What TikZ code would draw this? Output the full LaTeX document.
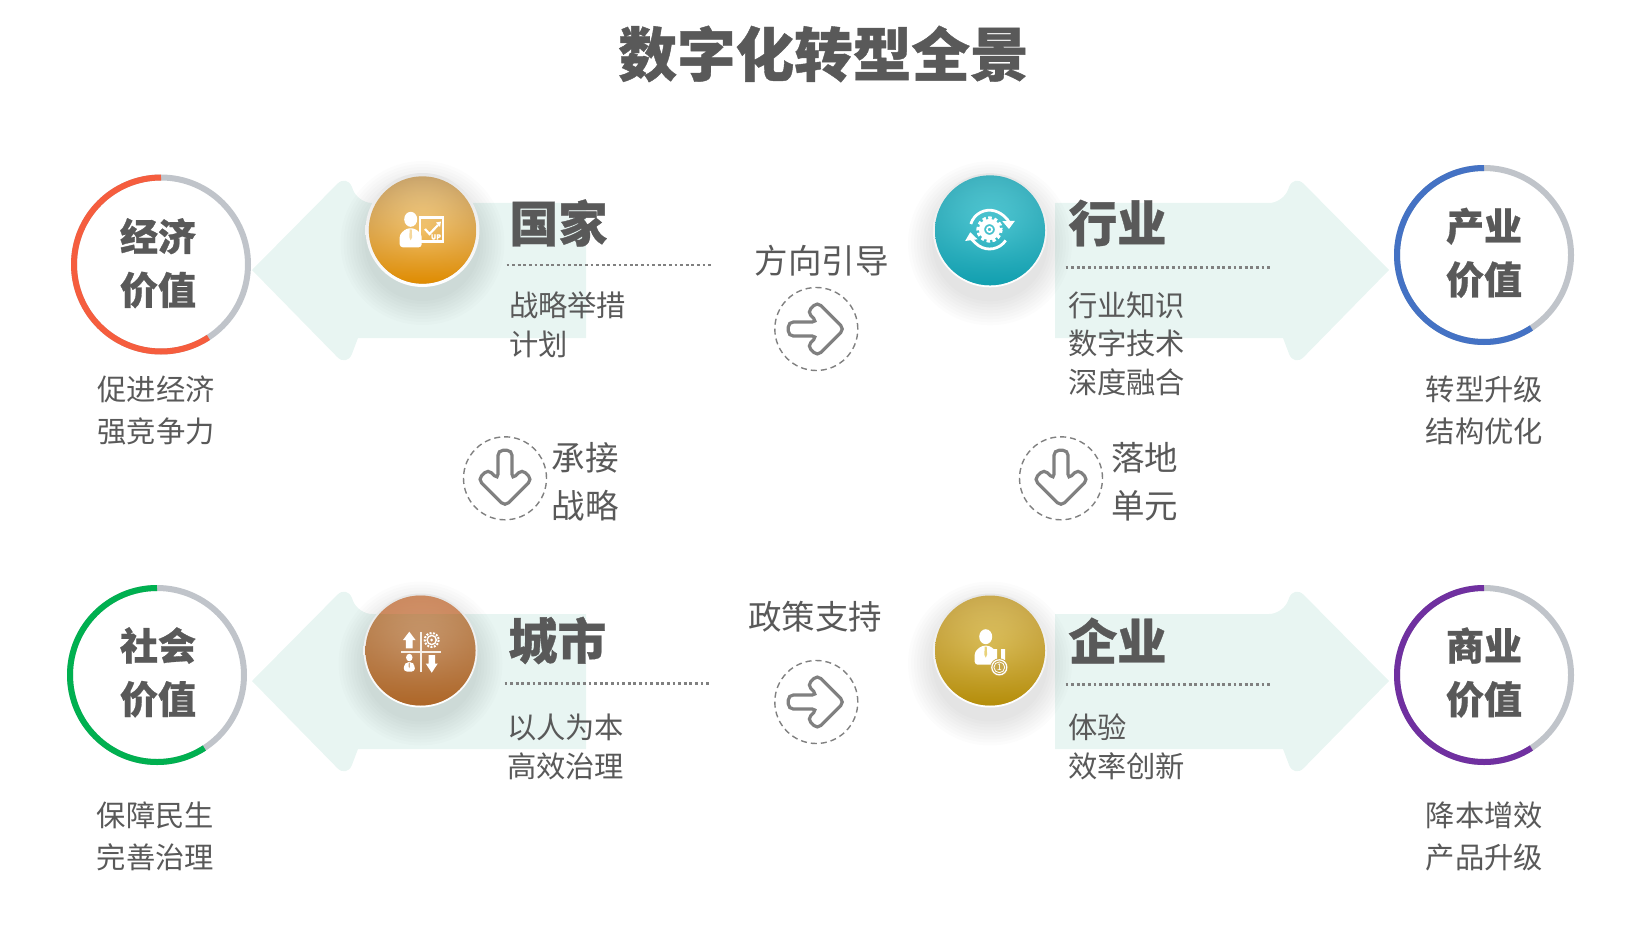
\documentclass[tikz,border=0pt]{standalone}
\usepackage{fontspec}
\setmainfont[BoldFeatures={FakeBold=0.7}]{Noto Sans CJK SC}
\usetikzlibrary{arrows.meta,fadings,positioning}
\definecolor{txtgrey}{RGB}{89,89,89}
\definecolor{ringgrey}{RGB}{192,196,202}
\definecolor{ringred}{RGB}{245,93,62}
\definecolor{ringblue}{RGB}{68,114,196}
\definecolor{ringgreen}{RGB}{0,176,80}
\definecolor{ringpurple}{RGB}{112,48,160}
\definecolor{flowmint}{RGB}{232,245,242}
\definecolor{dashgrey}{RGB}{128,128,128}
\definecolor{amberin}{HTML}{F5D89C}
\definecolor{amberout}{HTML}{C9A46B}
\definecolor{ambermid}{HTML}{FCC35F}
\definecolor{amberlow}{HTML}{E08C00}
\definecolor{tealin}{HTML}{6ADAE3}
\definecolor{tealout}{HTML}{3FB1BE}
\definecolor{tealmid}{HTML}{33B6C4}
\definecolor{teallow}{HTML}{12A0B0}
\definecolor{copperin}{HTML}{D2AC88}
\definecolor{copperout}{HTML}{BD8A5A}
\definecolor{coppermid}{HTML}{B9794A}
\definecolor{copperlow}{HTML}{AE6728}
\definecolor{brassin}{HTML}{E8D27A}
\definecolor{brassout}{HTML}{C9A94E}
\definecolor{brassmid}{HTML}{D2AE3E}
\definecolor{brasslow}{HTML}{B58E0A}
\tikzfading[name=lowball,top color=transparent!100,middle color=transparent!100,bottom color=transparent!0]
\tikzset{
  titletext/.style={font=\fontsize{29.3}{34}\selectfont\bfseries,text=txtgrey,inner sep=0pt},
  headtext/.style={font=\fontsize{24.5}{29}\selectfont\bfseries,text=txtgrey,inner sep=0pt,anchor=west},
  bodytext/.style={font=\fontsize{14.65}{19.4}\selectfont,text=txtgrey,inner sep=0pt,anchor=west,align=left},
  sidetext/.style={font=\fontsize{16.75}{24}\selectfont,text=txtgrey,inner sep=0pt,anchor=west,align=left},
  ringtext/.style={font=\fontsize{19}{26.7}\selectfont\bfseries,text=txtgrey,inner sep=0pt,align=center},
  captext/.style={font=\fontsize{14.65}{20.9}\selectfont,text=txtgrey,inner sep=0pt,align=center},
  dotrule/.style={draw=dashgrey,line width=1.2pt,dash pattern=on 1.4pt off 1.4pt},
  iconpart/.style={fill=white,draw=none}
}
\newcommand{\valuering}[3]{%
  \draw[ringgrey,line width=3pt] (#1,#2) circle[radius=87];
  \draw[#3,line width=3pt] (#1,#2) ++(-90:87) arc[start angle=-90,end angle=-303,radius=87];
}
\newcommand{\flowarrow}[3]{%
  \begin{scope}[shift={(#1,#2)},xscale=#3]
    \fill[flowmint] (0,0) [rounded corners=7pt] -- (95,-96) -- (106,-67)
      [sharp corners] -- (334,-67) -- (334,68) -- (106,68)
      [rounded corners=7pt] -- (95,97) [sharp corners] -- cycle;
  \end{scope}
}
\newcommand{\ballbase}[4]{%
  \foreach \rr in {58,61,...,82}{\fill[black,opacity=.012] (#1,#2+13) circle[radius=\rr];}
  \shade[top color=black!10,bottom color=white] (#1,#2) circle[radius=57];
  \shade[inner color=#3in,outer color=#3out] (#1,#2) circle[radius=#4];
  \shade[top color=#3mid,bottom color=#3low,path fading=lowball] (#1,#2) circle[radius=#4];
}
\newcommand{\personicon}[4]{%
  \begin{scope}[shift={(#1,#2)},scale=#3]
    \fill[iconpart] (0,0) ellipse[x radius=6.5,y radius=7.5];
    \fill[iconpart,rounded corners=1.5pt] (-11,28) -- (-11,15) -- (-4,9) -- (4,9) -- (11,15) -- (11,28) -- cycle;
    \fill[#4] (-1,10) -- (1,10) -- (1.4,18) -- (0,21) -- (-1.4,18) -- cycle;
  \end{scope}
}
\newcommand{\flowicon}[4]{%
  \node[circle,draw=dashgrey,densely dashed,line width=.7pt,minimum size=41.5pt,inner sep=0pt] (#1) at (#2,#3) {};
  \draw[dashgrey,line width=1.6pt,rounded corners=2.5pt,shift={(#1.center)},rotate=#4]
    (28,0) -- (1,-27) -- (-9,-17) -- (1,-7) -- (-28,-7) -- (-28,7) -- (1,7) -- (-9,17) -- (1,27) -- cycle;
}
\begin{document}
\begin{tikzpicture}[x=.5pt,y=-.5pt]
  \useasboundingbox (0,0) rectangle (1641,925);
  \node[titletext] (title) at (823.5,54) {数字化转型全景};

  \flowarrow{252}{270}{1}
  \flowarrow{1389}{270}{-1}
  \flowarrow{252}{681}{1}
  \flowarrow{1389}{681}{-1}

  \valuering{161}{264.5}{ringred}
  \valuering{1484}{255}{ringblue}
  \valuering{157}{675}{ringgreen}
  \valuering{1484}{675}{ringpurple}

  \ballbase{422.5}{230}{amber}{53.7}
  \ballbase{990}{230.3}{teal}{55}
  \ballbase{420.5}{650.5}{copper}{55}
  \ballbase{990}{650.5}{brass}{55}

  \begin{scope}
    \clip (420.5,650.5) circle[radius=55];
    \fill[ringred!40!copperin,opacity=.45] (360,590) rectangle (480,614);
  \end{scope}

  \personicon{410.7}{219.3}{1}{amberin}
  \draw[white,line width=1.1pt] (420,217.5) rectangle (443,241.5);
  \draw[white,line width=1.1pt] (425,229) -- (429.5,234) -- (438,225);
  \fill[white] (441,221.5) -- (436,222.5) -- (440,227) -- cycle;
  \node[font=\fontsize{3.5}{4}\selectfont\bfseries,text=white,inner sep=0pt] (uptag) at (436,237) {UP};

  \draw[white,line width=1.4pt,-{Triangle[width=6pt,length=4pt]}] (970.8,224) arc[start angle=197,end angle=358,radius=19.5];
  \draw[white,line width=1.4pt,-{Triangle[width=6pt,length=4pt]}] (1005.7,240.4) arc[start angle=34,end angle=172,radius=19.5];
  \draw[white,line width=2.2pt,dash pattern=on 1.6pt off 1.2pt] (989.5,229.5) circle[radius=11];
  \draw[white,line width=2.6pt] (989.5,229.5) circle[radius=8];
  \draw[white,line width=.8pt] (989.5,229.5) circle[radius=2.6];

  \draw[white!88!brown,line width=1pt] (421,632) -- (421,672) (401,651.7) -- (441,651.7);
  \fill[iconpart] (409.3,631.7) -- (415.5,640) -- (412.7,640) -- (412.7,648.3) -- (405.9,648.3) -- (405.9,640) -- (403,640) -- cycle;
  \fill[iconpart] (431.7,672.7) -- (425.7,663.5) -- (428.5,663.5) -- (428.5,655) -- (435,655) -- (435,663.5) -- (437.8,663.5) -- cycle;
  \personicon{409.3}{657.5}{.5}{copperin}
  \draw[white,line width=1pt,dash pattern=on 1pt off .7pt] (431.7,640) circle[radius=7];
  \draw[white,line width=.7pt] (431.7,640) circle[radius=4.6];
  \fill[white] (431.7,640) circle[radius=1.5];

  \personicon{985.7}{636.7}{1}{brassin}
  \fill[iconpart] (993,649) rectangle (997,660) (1001,649) rectangle (1005,660);
  \fill[brassout] (999.3,667.3) circle[radius=9];
  \draw[white,line width=.6pt] (999.3,667.3) circle[radius=7.5];
  \draw[white,line width=.4pt] (999.3,667.3) circle[radius=5.4];
  \node[font=\fontsize{4.5}{5}\selectfont,text=white,inner sep=0pt] (medalno) at (999.3,667.3) {1};

  \node[headtext] (guojia) at (509,223) {国家};
  \node[headtext] (hangye) at (1068,223) {行业};
  \node[headtext] (chengshi) at (508,640.5) {城市};
  \node[headtext] (qiye) at (1068,640.5) {企业};

  \coordinate (ruleA) at (506.5,265);
  \coordinate (ruleB) at (1065.5,267.5);
  \coordinate (ruleC) at (504.5,683.5);
  \coordinate (ruleD) at (1065.5,684.5);
  \draw[dotrule] (ruleA) -- ++(206,0);
  \draw[dotrule] (ruleB) -- ++(206,0);
  \draw[dotrule] (ruleC) -- ++(206,0);
  \draw[dotrule] (ruleD) -- ++(206,0);

  \node[bodytext] (guojiatxt) at (508.6,324.5) {战略举措\\计划};
  \node[bodytext] (hangyetxt) at (1067.6,343.8) {行业知识\\数字技术\\深度融合};
  \node[bodytext] (chengshitxt) at (506.6,747) {以人为本\\高效治理};
  \node[bodytext] (qiyetxt) at (1067.6,747) {体验\\效率创新};

  \node[ringtext] (jingji) at (158,263.2) {经济\\价值};
  \node[ringtext] (chanye) at (1484,252.8) {产业\\价值};
  \node[ringtext] (shehui) at (158,672.4) {社会\\价值};
  \node[ringtext] (shangye) at (1484,672.5) {商业\\价值};

  \node[captext] (jingjicap) at (156,410.3) {促进经济\\强竞争力};
  \node[captext] (chanyecap) at (1484.5,410.3) {转型升级\\结构优化};
  \node[captext] (shehuicap) at (155.4,836.2) {保障民生\\完善治理};
  \node[captext] (shangyecap) at (1484.5,836.2) {降本增效\\产品升级};

  \node[sidetext,anchor=center] (fangxiang) at (821.6,260.6) {方向引导};
  \node[sidetext,anchor=center] (zhengce) at (815.3,616.5) {政策支持};
  \node[sidetext] (chengjie) at (551.3,481.5) {承接\\战略};
  \node[sidetext] (luodi) at (1111,481.5) {落地\\单元};

  \flowicon{topflow}{816.3}{329}{0}
  \flowicon{lowflow}{816.3}{702}{0}
  \flowicon{leftdown}{505}{478.3}{-90}
  \flowicon{rightdown}{1061}{478.3}{-90}
\end{tikzpicture}
\end{document}
